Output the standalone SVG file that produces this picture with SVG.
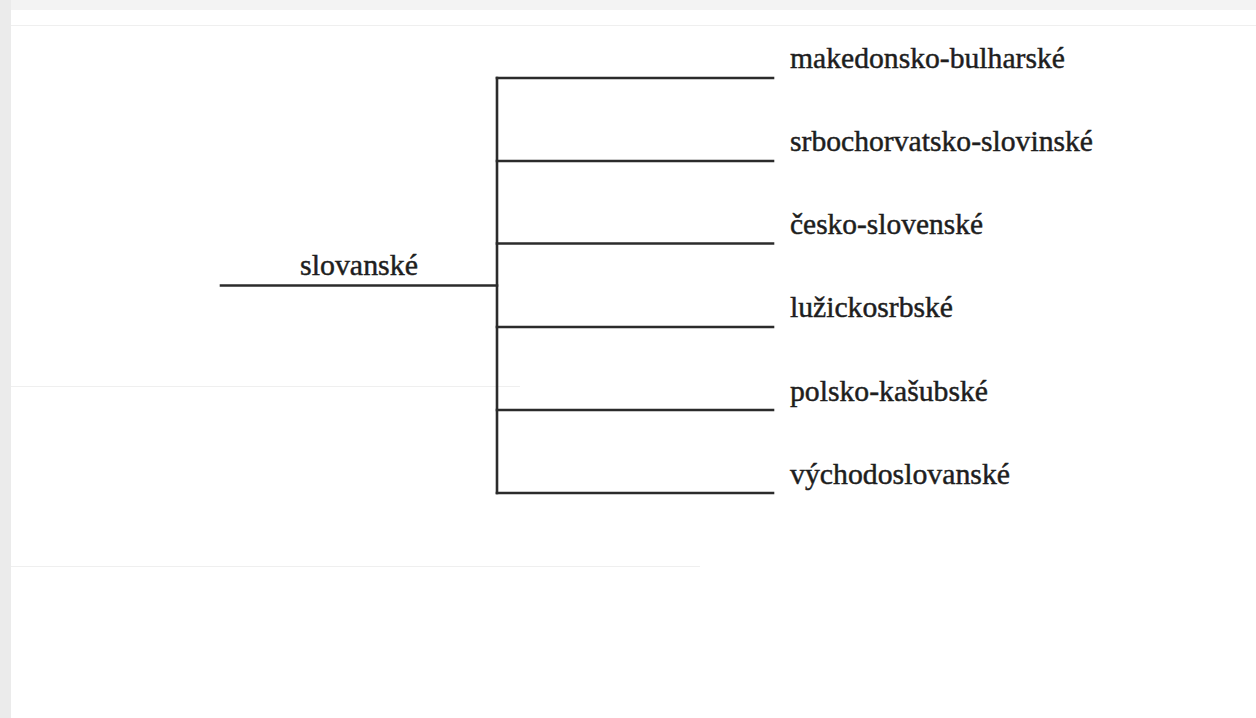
<svg xmlns="http://www.w3.org/2000/svg" width="1256" height="718" viewBox="0 0 1256 718">
<style>
.bg{fill:#ffffff}
.edge{stroke:#2b2b2b;stroke-width:2.6;fill:none;stroke-linecap:square}
.faint{stroke:#efefef;stroke-width:1.2}
.lbl{font-family:"Liberation Serif","Times New Roman",serif;font-size:29px;fill:#1e1e1e;stroke:#1e1e1e;stroke-width:0.45}
</style>
<rect class="bg" x="0" y="0" width="1256" height="718"/>
<rect x="0" y="0" width="1256" height="10" fill="#f3f3f3"/>
<rect x="0" y="0" width="11" height="718" fill="#ebebeb"/>
<line class="faint" x1="11" y1="25.5" x2="1256" y2="25.5"/>
<line class="faint" x1="11" y1="386.5" x2="520" y2="386.5"/>
<line class="faint" x1="11" y1="566.5" x2="700" y2="566.5"/>
<g id="connectors">
<line class="edge" x1="221" y1="285.5" x2="497" y2="285.5"/>
<line class="edge" x1="497" y1="78" x2="497" y2="493"/>
<line class="edge" x1="497" y1="78" x2="773" y2="78"/>
<line class="edge" x1="497" y1="161" x2="773" y2="161"/>
<line class="edge" x1="497" y1="243.5" x2="773" y2="243.5"/>
<line class="edge" x1="497" y1="327" x2="773" y2="327"/>
<line class="edge" x1="497" y1="410" x2="773" y2="410"/>
<line class="edge" x1="497" y1="493" x2="773" y2="493"/>
</g>
<g id="root"><text class="lbl" x="300" y="275" textLength="118" lengthAdjust="spacingAndGlyphs">slovanské</text></g>
<g id="n1"><text class="lbl" x="790" y="68" textLength="275" lengthAdjust="spacingAndGlyphs">makedonsko-bulharské</text></g>
<g id="n2"><text class="lbl" x="790" y="151" textLength="303" lengthAdjust="spacingAndGlyphs">srbochorvatsko-slovinské</text></g>
<g id="n3"><text class="lbl" x="790" y="234" textLength="193" lengthAdjust="spacingAndGlyphs">česko-slovenské</text></g>
<g id="n4"><text class="lbl" x="790" y="317" textLength="163" lengthAdjust="spacingAndGlyphs">lužickosrbské</text></g>
<g id="n5"><text class="lbl" x="790" y="401" textLength="198" lengthAdjust="spacingAndGlyphs">polsko-kašubské</text></g>
<g id="n6"><text class="lbl" x="790" y="484" textLength="220" lengthAdjust="spacingAndGlyphs">východoslovanské</text></g>
</svg>
